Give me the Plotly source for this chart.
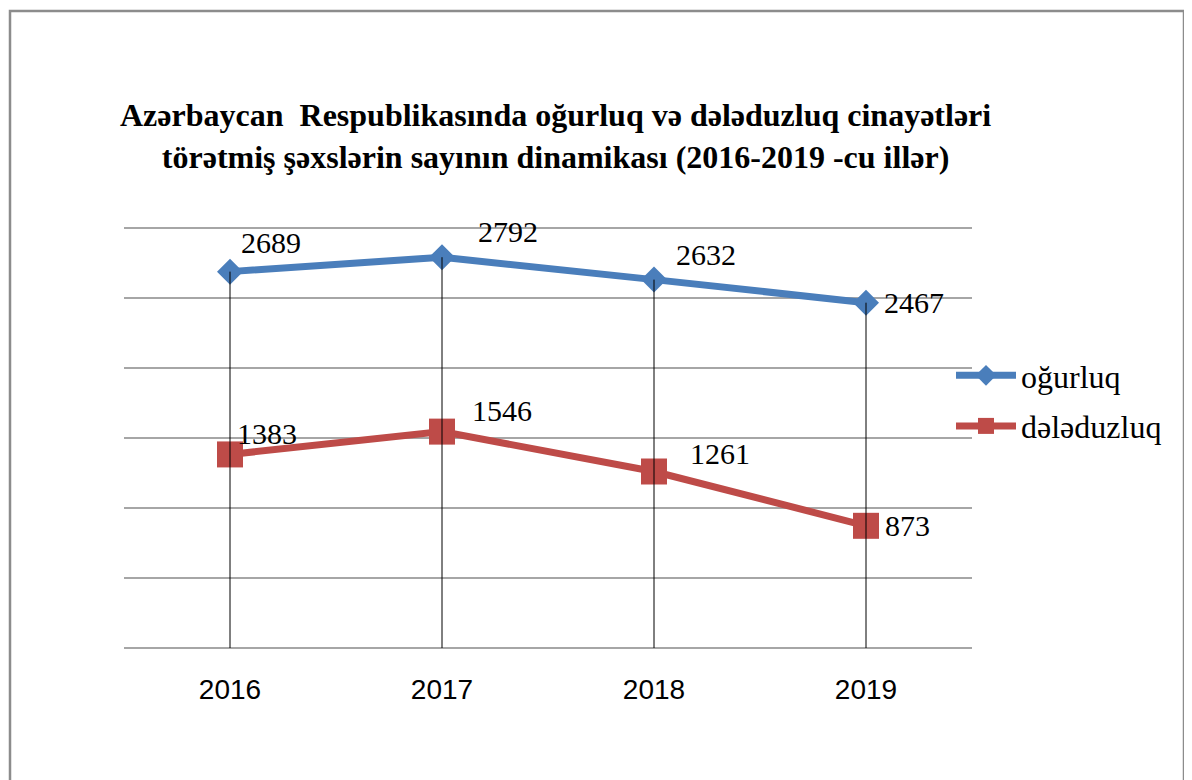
import plotly.graph_objects as go

years = ["2016", "2017", "2018", "2019"]
ogurluq = [2689, 2792, 2632, 2467]
deleduzluq = [1383, 1546, 1261, 873]
series_names = ["oğurluq", "dələduzluq"]
title_lines = ["Azərbaycan  Respublikasında oğurluq və dələduzluq cinayətləri",
               "törətmiş şəxslərin sayının dinamikası (2016-2019 -cu illər)"]

# label offsets (px) relative to points
og_off = [(41, 29), (66, 26), (52, 25), (48, 0)]
de_off = [(37, 21), (60, 21), (66, 18), (41, 0)]

SERIF = "Liberation Serif"
SANS = "Liberation Sans, Arial, sans-serif"

W, H = 1192, 780
OFF = 8  # browser body margin
YMAX = 3015
pw, ph = 848, 422
ml = 124 - OFF
mt = 228 - OFF - round(ph * (YMAX - 3000) / YMAX)
mr, mb = W - ml - pw, H - mt - ph

blue = "#4A7EBB"
red = "#BE4B48"

fig = go.Figure()

fig.add_trace(go.Scatter(
    x=years, y=ogurluq, name=series_names[0], legendgroup="a", mode="lines+markers",
    line=dict(color=blue, width=7),
    marker=dict(symbol="diamond", size=20, color=blue),
))
fig.add_trace(go.Scatter(
    x=years, y=deleduzluq, name=series_names[1], legendgroup="b", mode="lines+markers",
    line=dict(color=red, width=7),
    marker=dict(symbol="square", size=26, color=red),
))

# drop lines from highest point to axis
dx, dy = [], []
for i, yr in enumerate(years):
    dx += [yr, yr, None]
    dy += [max(ogurluq[i], deleduzluq[i]), 0, None]
fig.add_trace(go.Scatter(x=dx, y=dy, mode="lines", showlegend=False,
                         line=dict(color="black", width=1), hoverinfo="skip"))

annotations = []
for vals, offs in ((ogurluq, og_off), (deleduzluq, de_off)):
    for i, (v, (ox, oy)) in enumerate(zip(vals, offs)):
        annotations.append(dict(x=i, y=v, xref="x", yref="y", text=str(v), showarrow=False,
                                xshift=ox, yshift=oy, xanchor="center", yanchor="middle",
                                font=dict(family=SERIF, size=30, color="black")))

# title
annotations.append(dict(x=(555 - OFF - ml) / pw, y=(mt + ph - (136 - OFF)) / ph,
                        xref="paper", yref="paper", xanchor="center", yanchor="middle",
                        showarrow=False, text="<br>".join(title_lines),
                        font=dict(family=SERIF, size=32, color="black", weight=700)))

fig.update_layout(
    width=W, height=H,
    margin=dict(l=ml, r=mr, t=mt, b=mb, autoexpand=False),
    paper_bgcolor="white", plot_bgcolor="white",
    xaxis=dict(type="category", range=[-0.5, 3.5], showgrid=False, showline=False,
               ticks="", ticklabelstandoff=22,
               tickfont=dict(family=SANS, size=28, color="black")),
    yaxis=dict(range=[0, YMAX], tickvals=[0, 500, 1000, 1500, 2000, 2500, 3000],
               showticklabels=False, showgrid=True,
               gridcolor="#A6A6A6", gridwidth=1.5, zeroline=True, zerolinecolor="#A6A6A6",
               zerolinewidth=1.5, showline=False),
    legend=dict(x=(951 - OFF - ml) / pw, xanchor="left", y=(mt + ph - (348 - OFF)) / ph,
                yanchor="top",
                font=dict(family=SERIF, size=32, color="black"),
                tracegroupgap=6, itemwidth=60, bgcolor="rgba(0,0,0,0)"),
    annotations=annotations,
    shapes=[dict(type="rect", xref="paper", yref="paper",
                 x0=(2 - ml) / pw, x1=(1176 - ml) / pw,
                 y0=(mt + ph - 820) / ph, y1=(mt + ph - 3) / ph,
                 line=dict(color="#8C8C8C", width=2.5), fillcolor="rgba(0,0,0,0)")],
    showlegend=True,
)

fig.write_html("out.html")
